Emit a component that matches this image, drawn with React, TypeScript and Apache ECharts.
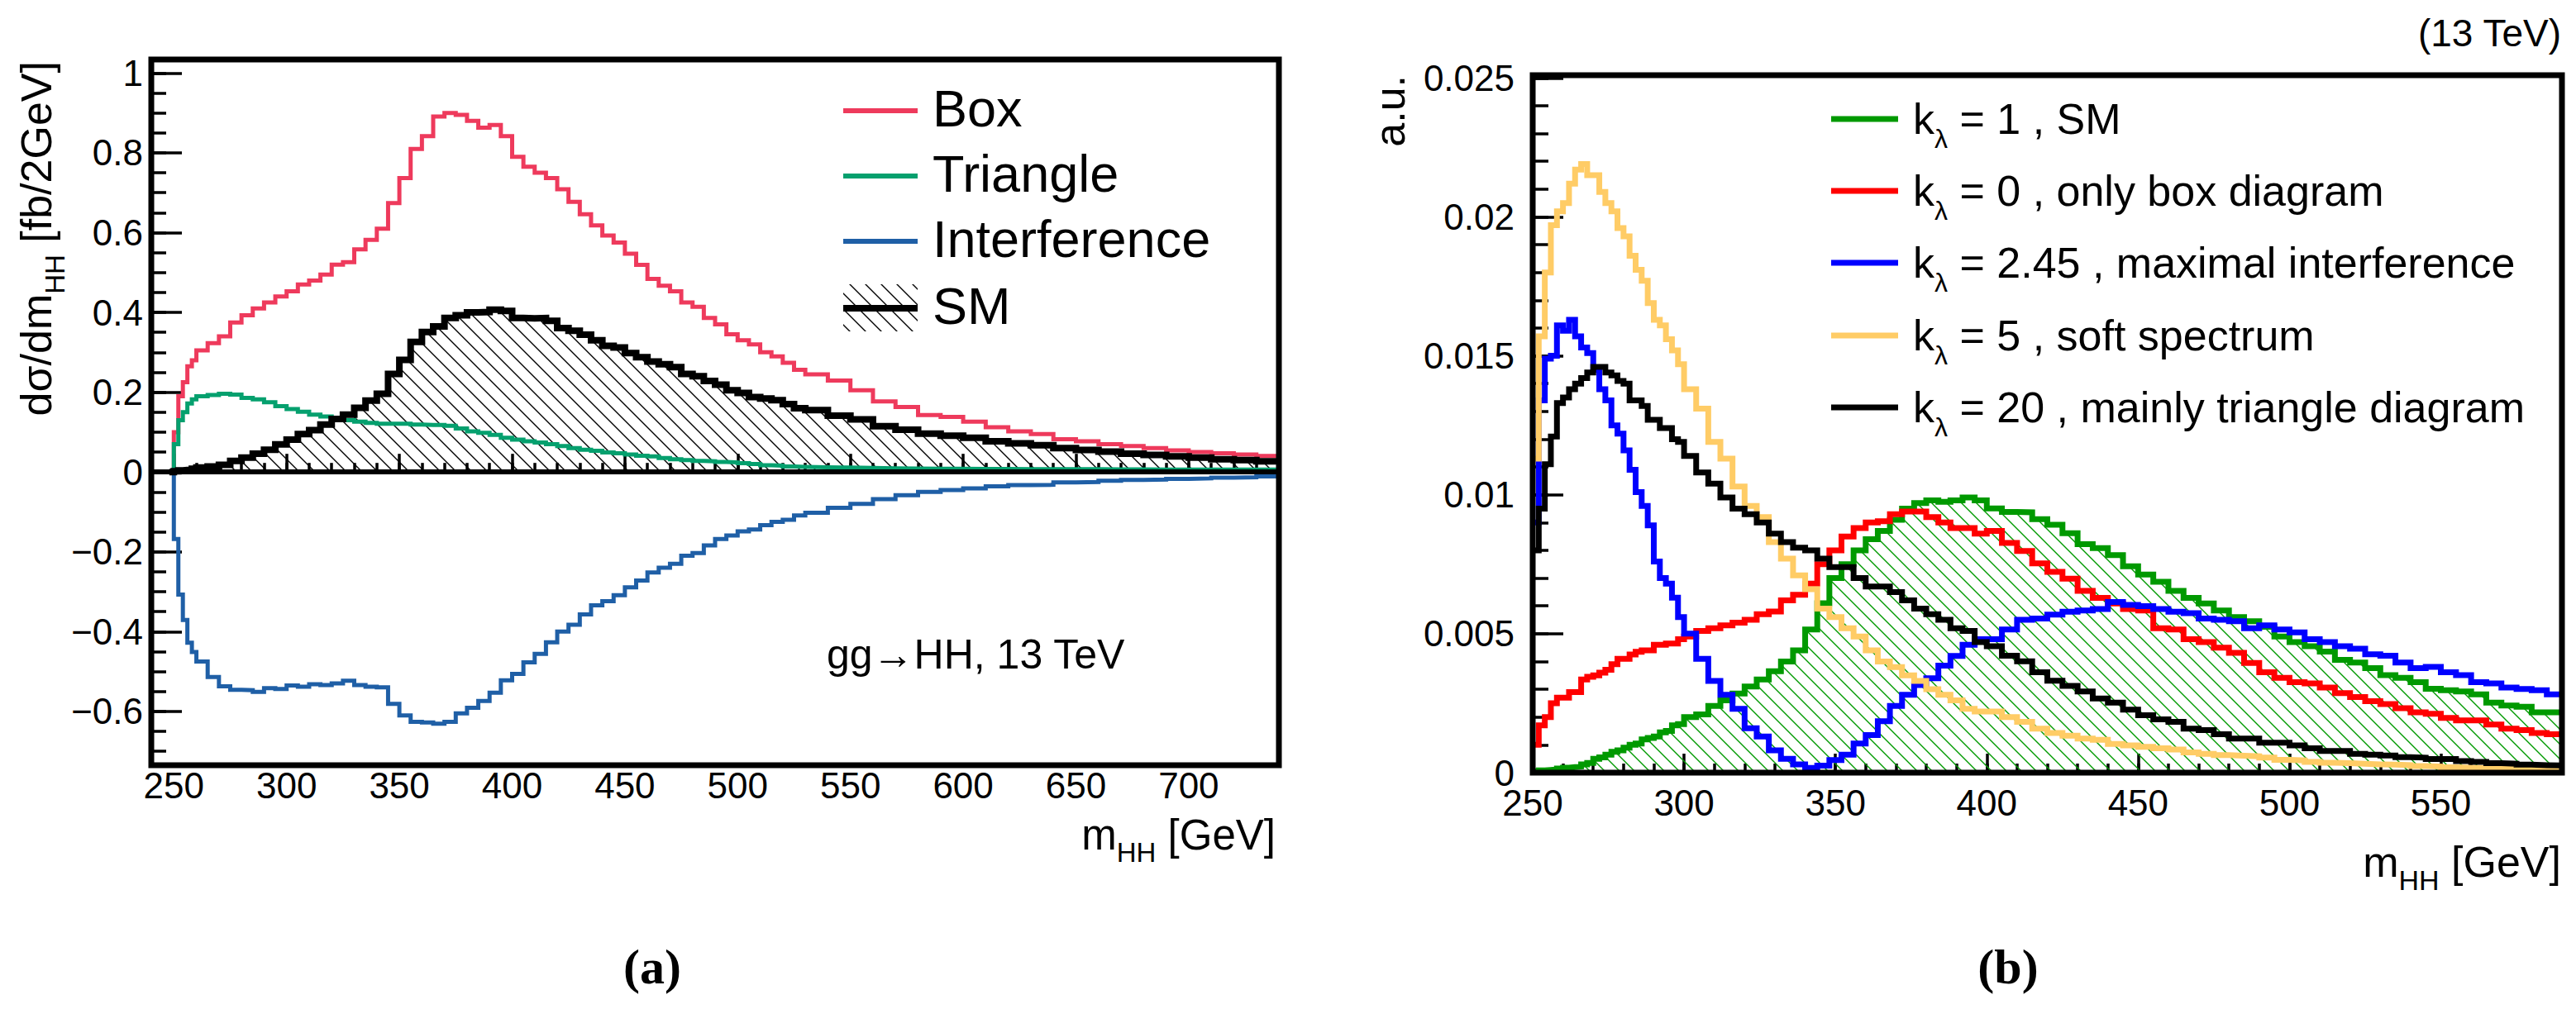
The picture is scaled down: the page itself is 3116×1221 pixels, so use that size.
import { useEffect, useRef } from "react";
import * as echarts from "echarts";

const FONT = "'Liberation Sans', Arial, Helvetica, sans-serif";
const SERIF = "'Liberation Serif', 'DejaVu Serif', serif";

// ---- panel (a): lower bin edges in GeV, last bin closes at 740 ----
const massA = [
  248, 250, 252, 254, 256, 258,
  260, 265, 270, 275, 280, 285, 290, 295, 300, 305, 310, 315, 320, 325, 330, 335,
  340, 345, 350, 355, 360, 365, 370, 375, 380, 385, 390, 395, 400, 405, 410, 415,
  420, 425, 430, 435, 440, 445, 450, 455, 460, 465, 470, 475, 480, 485, 490, 495,
  500, 505, 510, 515, 520, 525,
  530, 540, 550, 560, 570, 580, 590, 600, 610, 620, 630, 640, 650, 660, 670, 680,
  690, 700, 710, 720, 730,
];
const massAEnd = 740;

const boxA = [
  0, 0.1, 0.19, 0.225, 0.265, 0.28,
  0.305, 0.323, 0.34, 0.375, 0.393, 0.41, 0.425, 0.44, 0.453, 0.47, 0.48, 0.495, 0.52, 0.526, 0.558, 0.582,
  0.61, 0.674, 0.737, 0.81, 0.842, 0.891, 0.9, 0.895, 0.88, 0.863, 0.87, 0.842, 0.79, 0.765, 0.75, 0.737,
  0.709, 0.677, 0.646, 0.618, 0.593, 0.575, 0.547, 0.519, 0.484, 0.467, 0.453, 0.425, 0.414, 0.386, 0.37, 0.345,
  0.33, 0.32, 0.3, 0.29, 0.274, 0.256,
  0.245, 0.229, 0.205, 0.177, 0.163, 0.143, 0.138, 0.126, 0.112, 0.102, 0.095, 0.082, 0.077, 0.07, 0.065, 0.06,
  0.054, 0.05, 0.047, 0.044, 0.04,
];

const triangleA = [
  0, 0.07, 0.13, 0.15, 0.172, 0.182,
  0.19, 0.193, 0.196, 0.194, 0.186, 0.182, 0.175, 0.165, 0.158, 0.151, 0.144, 0.139, 0.133, 0.13, 0.126, 0.123,
  0.121, 0.121, 0.121, 0.119, 0.118, 0.118, 0.116, 0.109, 0.102, 0.098, 0.093, 0.086, 0.081, 0.077, 0.074, 0.07,
  0.065, 0.06, 0.056, 0.053, 0.049, 0.047, 0.044, 0.041, 0.039, 0.035, 0.032, 0.03, 0.028, 0.027, 0.025, 0.024,
  0.022, 0.02, 0.017, 0.016, 0.014, 0.013,
  0.012, 0.011, 0.01, 0.009, 0.0085, 0.008, 0.008, 0.0078, 0.0075, 0.007, 0.007, 0.007, 0.007, 0.0065, 0.0065, 0.006,
  0.006, 0.006, 0.006, 0.006, 0.006,
];

const interferenceA = [
  0, -0.168, -0.307, -0.371, -0.428, -0.451,
  -0.475, -0.514, -0.537, -0.546, -0.547, -0.551, -0.542, -0.544, -0.535, -0.538, -0.532, -0.534, -0.53, -0.523, -0.534, -0.538,
  -0.54, -0.581, -0.61, -0.626, -0.628, -0.631, -0.626, -0.605, -0.591, -0.574, -0.553, -0.522, -0.506, -0.477, -0.456, -0.427,
  -0.4, -0.383, -0.357, -0.334, -0.324, -0.309, -0.289, -0.272, -0.252, -0.24, -0.23, -0.21, -0.203, -0.184, -0.168, -0.159,
  -0.149, -0.144, -0.133, -0.125, -0.12, -0.109,
  -0.102, -0.09, -0.08, -0.068, -0.058, -0.05, -0.045, -0.041, -0.036, -0.033, -0.032, -0.026, -0.025, -0.022, -0.02, -0.019,
  -0.017, -0.016, -0.014, -0.013, -0.011,
];

const smA = [
  0, 0.002, 0.004, 0.005, 0.006, 0.008,
  0.011, 0.014, 0.018, 0.028, 0.036, 0.046, 0.056, 0.069, 0.081, 0.095, 0.105, 0.119, 0.133, 0.144, 0.161, 0.179,
  0.196, 0.246, 0.281, 0.326, 0.351, 0.365, 0.386, 0.393, 0.4, 0.401, 0.407, 0.404, 0.386, 0.385, 0.386, 0.379,
  0.361, 0.354, 0.344, 0.33, 0.316, 0.312, 0.298, 0.288, 0.277, 0.27, 0.263, 0.246, 0.24, 0.228, 0.219, 0.205,
  0.198, 0.188, 0.184, 0.18, 0.17, 0.16,
  0.155, 0.141, 0.132, 0.115, 0.106, 0.096, 0.091, 0.086, 0.077, 0.072, 0.067, 0.06, 0.055, 0.051, 0.046, 0.043,
  0.039, 0.036, 0.032, 0.03, 0.027,
];

// ---- panel (b): lower bin edges in GeV, last bin closes at 590 ----
const massB = [
  250, 252, 254, 256, 258, 260, 262, 264, 266, 268, 270, 272, 274, 276, 278, 280, 282, 284, 286, 288,
  290, 292, 294, 296, 298,
  300, 304, 308, 312, 316, 320, 324, 328, 332, 336, 340, 344, 348, 352, 356, 360, 364, 368, 372, 376,
  380, 384, 388, 392, 396,
  400, 405, 410, 415, 420, 425, 430, 435, 440, 445, 450, 455, 460, 465, 470, 475, 480, 485, 490, 495,
  500, 505, 510, 515, 520, 525, 530, 535, 540, 545, 550, 555, 560, 565, 570, 575, 580, 585,
];
const massBEnd = 590;

const kl1 = [
  0.00005, 0.00008, 0.0001, 0.00012, 0.00015, 0.00018, 0.0002, 0.00022, 0.0003, 0.00035, 0.0005, 0.00055, 0.00065, 0.00075, 0.0008, 0.0009, 0.001, 0.00105, 0.0012, 0.00125,
  0.0013, 0.00145, 0.0015, 0.0017, 0.00175,
  0.002, 0.0021, 0.0024, 0.0026, 0.00285, 0.0031, 0.00335, 0.00365, 0.004, 0.0044, 0.00515, 0.0061, 0.007, 0.0075, 0.008, 0.0084, 0.0087, 0.0091, 0.0095, 0.0097,
  0.0098, 0.00975, 0.0098, 0.0099, 0.0098,
  0.00951, 0.00938, 0.00937, 0.00912, 0.00892, 0.00862, 0.00822, 0.00808, 0.00783, 0.00743, 0.00713, 0.00687, 0.00654, 0.00629, 0.00609, 0.00584, 0.0056, 0.00545, 0.00525, 0.0049,
  0.0047, 0.00455, 0.00436, 0.00406, 0.00396, 0.00376, 0.00351, 0.00341, 0.00326, 0.00302, 0.00297, 0.00292, 0.00282, 0.00252, 0.00242, 0.00237, 0.00217, 0.00217,
];

const kl0 = [
  0.001, 0.0017, 0.002, 0.0025, 0.0027, 0.0027, 0.0029, 0.0029, 0.00335, 0.00345, 0.0035, 0.0036, 0.0037, 0.0039, 0.0041, 0.0041, 0.00425, 0.00435, 0.0044, 0.0044,
  0.0046, 0.0046, 0.00465, 0.00465, 0.0048,
  0.0049, 0.0051, 0.0052, 0.0053, 0.0054, 0.0055, 0.0057, 0.0058, 0.0062, 0.0064, 0.0068, 0.0075, 0.008, 0.0085, 0.0088, 0.009, 0.00905, 0.0093, 0.0094, 0.0094,
  0.0092, 0.009, 0.0088, 0.0088, 0.0086,
  0.0087, 0.00827, 0.00798, 0.00753, 0.00723, 0.00698, 0.00654, 0.00629, 0.00609, 0.00589, 0.00584, 0.0052, 0.00515, 0.0048, 0.0047, 0.0045, 0.00431, 0.00395, 0.00361, 0.00341,
  0.00326, 0.00321, 0.00306, 0.00286, 0.00272, 0.00257, 0.00247, 0.00232, 0.00217, 0.00212, 0.00197, 0.00188, 0.00188, 0.00173, 0.00158, 0.00153, 0.00143, 0.00138,
];

const kl245 = [
  0.009, 0.0134, 0.0149, 0.015, 0.0161, 0.0159, 0.0163, 0.0157, 0.0153, 0.0151, 0.0145, 0.0138, 0.0134, 0.0125, 0.0122, 0.0116, 0.0109, 0.0101, 0.0096, 0.0089,
  0.0076, 0.007, 0.0068, 0.0063, 0.0056,
  0.005, 0.0041, 0.0033, 0.0028, 0.0023, 0.0016, 0.0013, 0.0008, 0.0005, 0.0003, 0.00017, 0.00025, 0.00045, 0.00065, 0.00105, 0.00135, 0.00185, 0.0024, 0.0028, 0.00315,
  0.0034, 0.00385, 0.0042, 0.0046, 0.0048,
  0.0048, 0.00515, 0.0055, 0.00555, 0.00569, 0.00579, 0.00584, 0.00589, 0.00614, 0.00604, 0.00599, 0.00589, 0.00579, 0.00574, 0.00555, 0.0055, 0.00545, 0.0052, 0.0053, 0.00515,
  0.00505, 0.0048, 0.0047, 0.00455, 0.00446, 0.00426, 0.00421, 0.00396, 0.00376, 0.00381, 0.00361, 0.00351, 0.00326, 0.00321, 0.00306, 0.00301, 0.00297, 0.00282,
];

const kl5 = [
  0.0113, 0.0157, 0.018, 0.0197, 0.0202, 0.0205, 0.0212, 0.0217, 0.0219, 0.0215, 0.0215, 0.0209, 0.0205, 0.0202, 0.0196, 0.0193, 0.0186, 0.0181, 0.0177, 0.0169,
  0.0163, 0.0161, 0.0156, 0.0152, 0.0147,
  0.0138, 0.0131, 0.0119, 0.0113, 0.0103, 0.0096, 0.0092, 0.0083, 0.0077, 0.0071, 0.0066, 0.0059, 0.0056, 0.0052, 0.0049, 0.0044, 0.004, 0.0038, 0.0035, 0.0033,
  0.003, 0.0028, 0.0026, 0.0023, 0.0022,
  0.0022, 0.002, 0.00183, 0.00158, 0.00143, 0.00133, 0.00123, 0.00118, 0.00103, 0.00098, 0.00093, 0.00088, 0.00083, 0.00073, 0.00068, 0.00063, 0.00061, 0.00059, 0.00054, 0.00046,
  0.00044, 0.00039, 0.00036, 0.00034, 0.00032, 0.0003, 0.00029, 0.00027, 0.00024, 0.00022, 0.00019, 0.00018, 0.00016, 0.00015, 0.00014, 0.00013, 0.00012, 0.00011,
];

const kl20 = [
  0.008, 0.0095, 0.0111, 0.0121, 0.0133, 0.0135, 0.0138, 0.014, 0.0142, 0.0144, 0.0146, 0.0146, 0.0144, 0.0143, 0.0141, 0.014, 0.0134, 0.0134, 0.0132, 0.0127,
  0.0127, 0.0124, 0.0124, 0.012, 0.0119,
  0.0114, 0.0108, 0.0104, 0.0099, 0.0095, 0.0093, 0.009, 0.0086, 0.0083, 0.0081, 0.008, 0.0077, 0.0074, 0.0074, 0.007, 0.0067, 0.0067, 0.0065, 0.0062, 0.0059,
  0.0057, 0.0055, 0.0052, 0.0051, 0.0047,
  0.00455, 0.00421, 0.00401, 0.00361, 0.00331, 0.00312, 0.00292, 0.00267, 0.00252, 0.00227, 0.00207, 0.00192, 0.00183, 0.00158, 0.00153, 0.00138, 0.00123, 0.00123, 0.00108, 0.00108,
  0.00098, 0.00088, 0.00078, 0.00078, 0.00068, 0.00065, 0.00062, 0.00056, 0.00054, 0.00049, 0.00049, 0.00042, 0.00039, 0.00034, 0.00032, 0.00029, 0.00027, 0.00026,
];

// tick positions
const xTicksA = [250, 300, 350, 400, 450, 500, 550, 600, 650, 700];
const yTicksA = [-0.6, -0.4, -0.2, 0, 0.2, 0.4, 0.6, 0.8, 1];
const xTicksB = [250, 300, 350, 400, 450, 500, 550];
const yTicksB = [0, 0.005, 0.01, 0.015, 0.02, 0.025];

const legendA = ["Box", "Triangle", "Interference", "SM"];
const legendB = [
  " = 1 , SM",
  " = 0 , only box diagram",
  " = 2.45 , maximal interference",
  " = 5 , soft spectrum",
  " = 20 , mainly triangle diagram",
];

const range = (a: number, b: number, s: number) => {
  const out: number[] = [];
  for (let i = 0; a + i * s <= b + 1e-9; i++) out.push(Math.round((a + i * s) * 1e6) / 1e6);
  return out;
};

const steps = (edges: number[], vals: number[], end: number) =>
  edges.map((x, i) => [x, vals[i]]).concat([[end, vals[vals.length - 1]]]);

const hatch = (color: string, size: number, width: number) => {
  const c = document.createElement("canvas");
  c.width = size;
  c.height = size;
  const g = c.getContext("2d")!;
  g.strokeStyle = color;
  g.lineWidth = width;
  g.beginPath();
  g.moveTo(-2, -2);
  g.lineTo(size + 2, size + 2);
  g.moveTo(-2, size - 2);
  g.lineTo(2, size + 2);
  g.moveTo(size - 2, -2);
  g.lineTo(size + 2, 2);
  g.stroke();
  return { image: c.toDataURL(), repeat: "repeat", imageWidth: size, imageHeight: size } as any;
};

const fmt = (v: number) => (v < 0 ? "\u2212" + String(-v) : String(v));

const COL = {
  box: "#ee3a5c",
  tri: "#05a06e",
  intf: "#1f5fa6",
  g: "#009900",
  r: "#ff0000",
  b: "#0000ff",
  y: "#ffcc66",
};

function valueAxis(grid: number, min: number, max: number, ticks: number[], len: number, labels: boolean, margin: number, pos: string) {
  return {
    type: "value",
    gridIndex: grid,
    min,
    max,
    position: pos,
    axisLine: { show: false },
    splitLine: { show: false },
    axisTick: { show: true, inside: true, length: len, customValues: ticks, lineStyle: { color: "#000", width: 3.5 } },
    axisLabel: labels
      ? { show: true, customValues: ticks, formatter: fmt, color: "#000", fontFamily: FONT, fontSize: 44, margin }
      : { show: false },
  };
}

export default function App() {
  const ref = useRef<HTMLDivElement>(null);

  useEffect(() => {
    if (!ref.current) return;
    const chart = echarts.init(ref.current, null, { renderer: "svg" });

    const hatchA = hatch("#000", 19, 1.4);
    const hatchB = hatch(COL.g, 18, 1.4);

    const line = (name: string, data: any, color: string, width: number, x: number, y: number, extra: any = {}) => ({
      name,
      type: "line",
      step: "end",
      xAxisIndex: x,
      yAxisIndex: y,
      data,
      symbol: "none",
      silent: true,
      lineStyle: { color, width, join: "miter" },
      itemStyle: { color },
      ...extra,
    });

    const sub = (main: number, subSize: number, lh: number) => ({
      a: { fontSize: main, fontFamily: FONT, fill: "#000", lineHeight: lh },
      b: { fontSize: subSize, fontFamily: FONT, fill: "#000", lineHeight: subSize, verticalAlign: "bottom" },
    });

    const rowsA = [134, 213, 292, 373];
    const colsA = [COL.box, COL.tri, COL.intf, "#000"];
    const rowsB = [144, 231, 318, 406, 493];
    const colsB = [COL.g, COL.r, COL.b, COL.y, "#000"];

    const graphic: any[] = [
      // frames
      { type: "rect", z: 100, silent: true, shape: { x: 183, y: 72, width: 1364, height: 854 }, style: { fill: "none", stroke: "#000", lineWidth: 7 } },
      { type: "rect", z: 100, silent: true, shape: { x: 1854, y: 91, width: 1245, height: 844 }, style: { fill: "none", stroke: "#000", lineWidth: 7 } },
      // axis titles
      {
        type: "text", x: 44, y: 74, rotation: Math.PI / 2,
        style: { text: "{a|d\u03c3/dm}{b|HH}{a| [fb/2GeV]}", rich: sub(52, 33, 78), align: "right", verticalAlign: "middle" },
      },
      {
        type: "text", x: 1543, y: 1010,
        style: { text: "{a|m}{b|HH}{a| [GeV]}", rich: sub(51, 33, 76), align: "right", verticalAlign: "middle" },
      },
      {
        type: "text", x: 1681, y: 91, rotation: Math.PI / 2,
        style: { text: "a.u.", fontSize: 52, fontFamily: FONT, fill: "#000", align: "right", verticalAlign: "middle" },
      },
      {
        type: "text", x: 3098, y: 1043,
        style: { text: "{a|m}{b|HH}{a| [GeV]}", rich: sub(52, 34, 78), align: "right", verticalAlign: "middle" },
      },
      { type: "text", x: 1000, y: 792, style: { text: "gg\u2192HH, 13 TeV", fontSize: 50, fontFamily: FONT, fill: "#000", align: "left", verticalAlign: "middle" } },
      { type: "text", x: 3098, y: 40, style: { text: "(13 TeV)", fontSize: 46, fontFamily: FONT, fill: "#000", align: "right", verticalAlign: "middle" } },
      { type: "text", x: 789, y: 1170, style: { text: "(a)", fontSize: 60, fontWeight: "bold", fontFamily: SERIF, fill: "#000", align: "center", verticalAlign: "middle" } },
      { type: "text", x: 2429, y: 1170, style: { text: "(b)", fontSize: 60, fontWeight: "bold", fontFamily: SERIF, fill: "#000", align: "center", verticalAlign: "middle" } },
      // SM legend hatch box
      { type: "rect", shape: { x: 1020, y: 344, width: 90, height: 57 }, style: { fill: hatchA, stroke: "none" } },
    ];

    legendA.forEach((t, i) => {
      graphic.push({ type: "line", shape: { x1: 1020, y1: rowsA[i], x2: 1110, y2: rowsA[i] }, style: { stroke: colsA[i], lineWidth: i === 3 ? 8 : 6 } });
      graphic.push({ type: "text", x: 1128, y: rowsA[i] - 3, style: { text: t, fontSize: 63, fontFamily: FONT, fill: "#000", align: "left", verticalAlign: "middle" } });
    });
    legendB.forEach((t, i) => {
      graphic.push({ type: "line", shape: { x1: 2215, y1: rowsB[i], x2: 2296, y2: rowsB[i] }, style: { stroke: colsB[i], lineWidth: 7 } });
      graphic.push({
        type: "text", x: 2314, y: rowsB[i],
        style: { text: "{a|k}{b|\u03bb}{a|" + t + "}", rich: sub(52, 32, 80), align: "left", verticalAlign: "middle" },
      });
    });

    const option: any = {
      animation: false,
      backgroundColor: "#fff",
      grid: [
        { left: 183, top: 72, width: 1364, height: 854, show: false, containLabel: false, outerBoundsMode: "none" },
        { left: 1854, top: 91, width: 1245, height: 844, show: false, containLabel: false, outerBoundsMode: "none" },
      ],
      xAxis: [
        valueAxis(0, 240, 740, xTicksA, 22, true, 2, "bottom"),
        valueAxis(0, 240, 740, range(250, 730, 10), 11, false, 0, "bottom"),
        valueAxis(1, 250, 590, xTicksB, 23, true, 14, "bottom"),
        valueAxis(1, 250, 590, range(250, 590, 10), 11, false, 0, "bottom"),
      ],
      yAxis: [
        valueAxis(0, -0.735, 1.034, yTicksA, 37, true, 10, "left"),
        valueAxis(0, -0.735, 1.034, range(-0.7, 1.0, 0.05), 18, false, 0, "left"),
        valueAxis(1, 0, 0.0251, yTicksB, 37, true, 22, "left"),
        valueAxis(1, 0, 0.0251, range(0, 0.025, 0.001), 19, false, 0, "left"),
      ],
      series: [
        line("Box", steps(massA, boxA, massAEnd), COL.box, 5, 0, 0),
        line("Triangle", steps(massA, triangleA, massAEnd), COL.tri, 5, 0, 0),
        line("Interference", steps(massA, interferenceA, massAEnd), COL.intf, 5, 0, 0),
        line("SM", steps(massA, smA, massAEnd), "#000", 8, 0, 0, {
          areaStyle: { color: hatchA, opacity: 1 },
          markLine: {
            silent: true,
            symbol: "none",
            label: { show: false },
            lineStyle: { color: "#000", width: 6, type: "solid" },
            data: [{ yAxis: 0 }],
          },
        }),
        line("k=1", steps(massB, kl1, massBEnd), COL.g, 7, 2, 2, { areaStyle: { color: hatchB, opacity: 1 } }),
        line("k=0", steps(massB, kl0, massBEnd), COL.r, 7, 2, 2),
        line("k=2.45", steps(massB, kl245, massBEnd), COL.b, 7, 2, 2),
        line("k=5", steps(massB, kl5, massBEnd), COL.y, 7, 2, 2),
        line("k=20", steps(massB, kl20, massBEnd), "#000", 7, 2, 2),
      ],
      graphic,
    };

    chart.setOption(option);
    return () => chart.dispose();
  }, []);

  return <div ref={ref} style={{ position: "fixed", left: 0, top: 0, width: 3116, height: 1221, background: "#fff" }} />;
}
